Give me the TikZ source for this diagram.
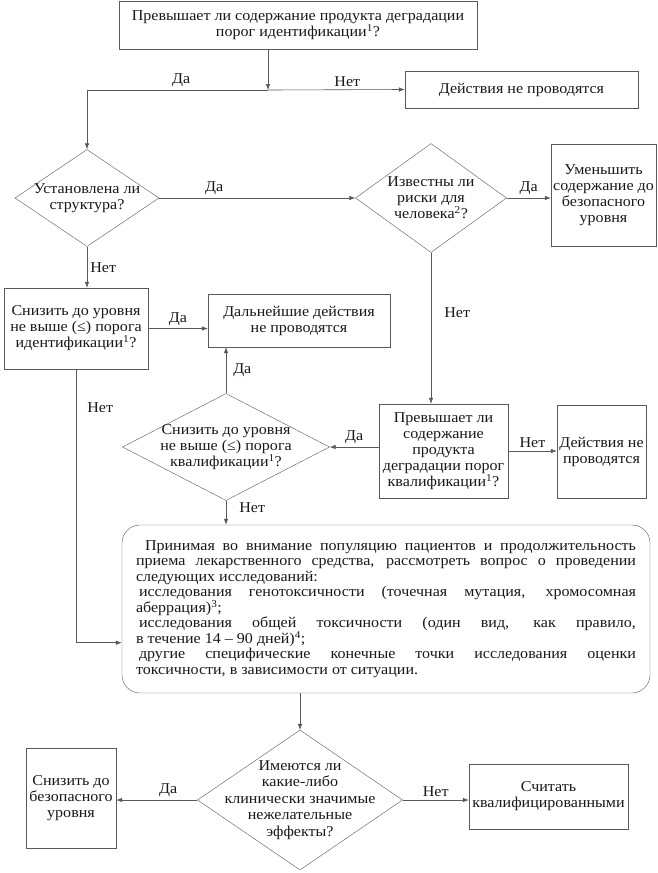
\documentclass[tikz,border=0pt]{standalone}
\usepackage{fontspec}
\setmainfont{Liberation Serif}[FakeStretch=1.07]
\usetikzlibrary{arrows.meta, shapes.geometric, calc}

\newcommand{\fullline}[1]{\makebox[500pt][s]{#1}}

\begin{document}
\begin{tikzpicture}[
    x=1pt, y=-1pt,
    >={Latex[length=6pt,width=4.5pt]},
    every node/.style={font=\fontsize{15}{16}\selectfont, text=black!90},
    box/.style={rectangle, draw=black!65, fill=white, inner sep=2pt, align=center},
    dia/.style={diamond, draw=black!65, fill=white, inner sep=0pt},
    txt/.style={align=center, inner sep=0pt},
    line/.style={draw=black!65, line width=0.6pt},
    lbl/.style={inner sep=3pt}
  ]
  \useasboundingbox (0,0) rectangle (657,873);
  \fill[white] (0,0) rectangle (657,873);

  % top question
  \node[box, minimum width=358, minimum height=48] (q1) at (298,25)
    {Превышает ли содержание продукта деградации\\порог идентификации\textsuperscript{1}?};
  \node[box, minimum width=233, minimum height=37] (none1) at (521.5,89.5) {Действия не проводятся};
  \coordinate (j1) at (268,90);

  % structure / risks
  \node[dia, minimum width=144, minimum height=97] (d1) at (87,198) {};
  \node[txt] (d1t) at (d1) {Установлена ли\\структура?};
  \node[dia, minimum width=151, minimum height=109] (d2) at (431,198) {};
  \node[txt] (d2t) at (d2) {Известны ли\\риски для\\человека\textsuperscript{2}?};
  \node[box, minimum width=105, minimum height=102, inner sep=1pt] (safe1) at (603.5,195)
    {Уменьшить\\содержание до\\безопасного\\уровня};

  % lowering to thresholds
  \node[box, minimum width=144, minimum height=81] (q2) at (76,328.5)
    {Снизить до уровня\\не выше (≤) порога\\идентификации\textsuperscript{1}?};
  \node[box, minimum width=182, minimum height=53] (stop) at (299,320.5)
    {Дальнейшие действия\\не проводятся};
  \node[dia, minimum width=207, minimum height=107] (d3) at (226,447) {};
  \node[txt] (d3t) at (d3) {Снизить до уровня\\не выше (≤) порога\\квалификации\textsuperscript{1}?};
  \node[box, minimum width=129, minimum height=94, inner sep=1pt] (q3) at (443.5,451)
    {Превышает ли\\содержание\\продукта\\деградации порог\\квалификации\textsuperscript{1}?};
  \node[box, minimum width=89, minimum height=93, inner sep=1pt] (none2) at (601.5,451.5)
    {Действия не\\проводятся};

  % studies
  \node[box, rounded corners=18pt, minimum width=528, minimum height=168, align=left,
        font=\fontsize{15}{15.5}\selectfont] (study) at (386,609) {%
    \fullline{\hspace*{9pt}Принимая во внимание популяцию пациентов и продолжительность}\\
    \fullline{приема лекарственного средства, рассмотреть вопрос о проведении}\\
    следующих исследований:\\
    \fullline{\hspace*{3pt}исследования генотоксичности (точечная мутация, хромосомная}\\
    аберрация)\textsuperscript{3};\\
    \fullline{\hspace*{3pt}исследования общей токсичности (один вид, как правило,}\\
    в течение 14 – 90 дней)\textsuperscript{4};\\
    \fullline{\hspace*{3pt}другие специфические конечные точки исследования оценки}\\
    токсичности, в зависимости от ситуации.};
  \coordinate (in1) at ($(study.south west)!0.3!(study.north west)$);

  % adverse effects
  \node[dia, minimum width=205, minimum height=140] (d4) at (300,800) {};
  \node[txt, font=\fontsize{15}{16.5}\selectfont] (d4t) at (d4)
    {Имеются ли\\какие-либо\\клинически значимые\\нежелательные\\эффекты?};
  \node[box, minimum width=90, minimum height=100, inner sep=1pt] (safe2) at (71,798)
    {Снизить до\\безопасного\\уровня};
  \node[box, minimum width=159, minimum height=65, inner sep=1pt] (ok) at (548.5,796.5)
    {Считать\\квалифицированными};

  % connectors
  \draw[line,->] (q1.south -| j1) -- (j1);
  \draw[line,->] (j1) -- node[lbl, above, pos=0.58] {Нет} (none1.west);
  \draw[line,->] (j1) -- node[lbl, above, pos=0.48] {Да} (d1.north |- j1) -- (d1.north);
  \draw[line,->] (d1.east) -- node[lbl, above, pos=0.28] {Да} (d2.west);
  \draw[line,->] (d2.east) -- node[lbl, above] {Да} (d2.east -| safe1.west);
  \draw[line,->] (d1.south) -- node[lbl, right] {Нет} (d1.south |- q2.north);
  \draw[line,->] (d2.south) -- node[lbl, right, pos=0.4, xshift=10pt] {Нет} (d2.south |- q3.north);
  \draw[line,->] (q2.east) -- node[lbl, above] {Да} (q2.east -| stop.west);
  \draw[line,->] (d3.north) -- node[lbl, right, xshift=4pt] {Да} (d3.north |- stop.south);
  \draw[line,->] (d3.east -| q3.west) -- node[lbl, above] {Да} (d3.east);
  \draw[line,->] (q3.east) -- node[lbl, above] {Нет} (q3.east -| none2.west);
  \draw[line,->] (d3.south) -- node[lbl, right, pos=0.3, xshift=10pt] {Нет} (d3.south |- study.north);
  \draw[line,->] (q2.south) |- node[lbl, right, pos=0.07, xshift=8pt] {Нет} (in1);
  \draw[line,->] (d4.north |- study.south) -- (d4.north);
  \draw[line,->] (d4.west) -- node[lbl, above, pos=0.36] {Да} (d4.west -| safe2.east);
  \draw[line,->] (d4.east) -- node[lbl, above] {Нет} (d4.east -| ok.west);
\end{tikzpicture}
\end{document}
